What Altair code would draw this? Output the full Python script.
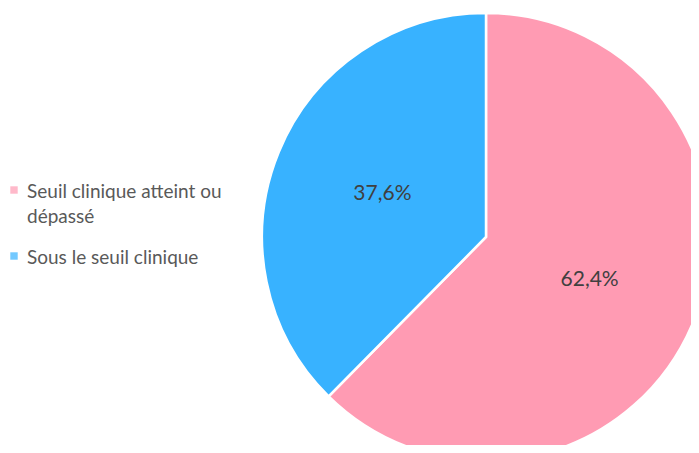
import altair as alt
import pandas as pd

categories = ["Seuil clinique atteint ou dépassé", "Sous le seuil clinique"]
legend_text = ["Seuil clinique atteint ou\ndépassé", "Sous le seuil clinique"]
values = [62.4, 37.6]
labels = ["62,4%", "37,6%"]
colors = ["#FF9BB3", "#38B2FF"]

df = pd.DataFrame({"cat": categories, "val": values, "lab": labels, "ord": [0, 1]})
leg = pd.DataFrame({"cat": categories, "txt": legend_text})

cx, cy = 478, 229
color_scale = alt.Scale(domain=categories, range=colors)

base = alt.Chart(df).encode(
    theta=alt.Theta("val:Q", stack=True),
    order=alt.Order("ord:Q"),
)

pie = base.mark_arc(outerRadius=224, stroke="white", strokeWidth=2.5, x=cx, y=cy).encode(
    color=alt.Color("cat:N", scale=color_scale, legend=None)
)

text = base.mark_text(radius=112, font="Lato", fontSize=21, color="#404040", x=cx, y=cy).encode(
    text="lab:N"
)

leg_y = alt.Y("cat:N", scale=alt.Scale(domain=categories, range=[182, 248], padding=0), axis=None)

leg_sym = alt.Chart(leg).mark_square(size=55, x=6).encode(
    y=leg_y,
    color=alt.Color("cat:N", scale=color_scale, legend=None),
)

leg_txt = alt.Chart(leg).mark_text(
    x=19, align="left", baseline="alphabetic", font="Lato", fontSize=19,
    color="#595959", lineBreak="\n", lineHeight=25, dy=8
).encode(y=leg_y, text="txt:N")

chart = (pie + text + leg_sym + leg_txt).properties(
    width=683, height=437, padding=0, autosize=alt.AutoSizeParams(type="none")
).configure_view(stroke=None)

chart.save("out.html", embed_options={"renderer": "svg", "actions": False})
